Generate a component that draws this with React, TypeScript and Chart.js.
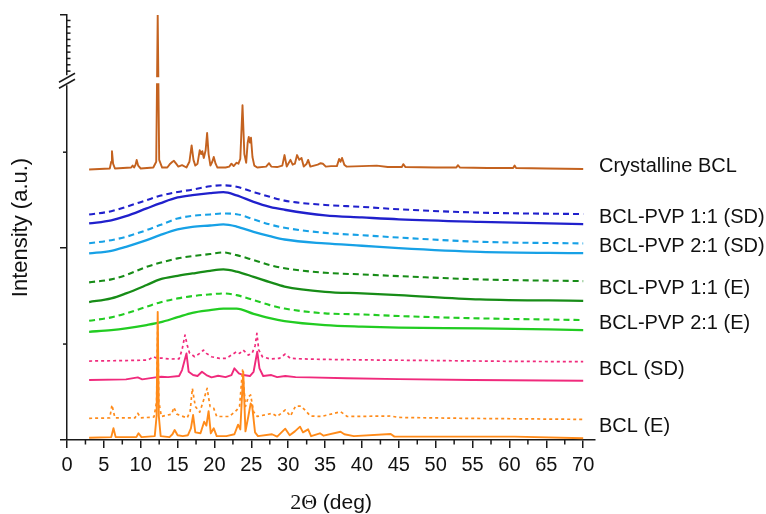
import React, { useEffect, useRef } from "react";
import { Chart, registerables } from "chart.js";

Chart.register(...registerables);

const FONT = "'Liberation Sans', Arial, Helvetica, sans-serif";
const SERIF = "'Liberation Serif', 'Times New Roman', serif";
const AXIS = "#1a1a1a";
const TEXT = "#111111";

// ---- axis description ----
const X_MIN = 0;
const X_MAX = 71.6;
const Y_MIN = 0;
const Y_MAX = 4.43;
const Y_BREAK = 3.75; // where the intensity axis is broken
const UPPER_TICK_STEP = 0.066;
const xMinorTicks = [2.5, 7.5, 12.5, 17.5, 22.5, 27.5, 32.5, 37.5, 42.5, 47.5, 52.5, 57.5, 62.5, 67.5];
const yMajorTicks = [0, 2, Y_MAX];
const yMinorTicks = [1, 3];
const xTitleParts = ["2Θ", " (deg)"];
const yTitle = "Intensity (a.u.)";

// ---- sample names (right-hand labels, top to bottom) ----
const sampleNames = [
  "Crystalline BCL",
  "BCL-PVP 1:1 (SD)",
  "BCL-PVP 2:1 (SD)",
  "BCL-PVP 1:1 (E)",
  "BCL-PVP 2:1 (E)",
  "BCL (SD)",
  "BCL (E)",
];

// ---- Crystalline BCL ----
const crystallineTheta = [3.0, 5.8, 6.0, 6.1, 6.25, 6.5, 8.7, 8.9, 9.1, 9.3, 9.45, 9.65, 10.0, 11.7, 12.1, 12.3, 12.5, 12.9, 13.6, 14.0, 14.3, 14.5, 14.8, 15.1, 15.6, 16.2, 16.6, 16.9, 17.15, 17.4, 17.7, 18.0, 18.2, 18.35, 18.55, 18.8, 19.0, 19.2, 19.45, 19.7, 19.9, 20.15, 20.4, 21.5, 22.0, 22.3, 22.6, 23.0, 23.25, 23.5, 23.8, 24.05, 24.3, 24.5, 24.65, 24.8, 24.95, 25.15, 25.4, 25.8, 27.0, 27.4, 27.7, 28.5, 29.2, 29.5, 29.8, 30.3, 30.6, 30.9, 31.2, 31.5, 31.8, 32.1, 32.5, 32.7, 33.0, 34.0, 34.4, 34.7, 35.1, 35.8, 36.6, 36.9, 37.1, 37.3, 37.6, 37.9, 40.0, 42.0, 43.5, 45.4, 45.6, 45.9, 50.0, 52.8, 53.0, 53.3, 57.0, 60.5, 60.7, 60.9, 65.0, 70.0];
const crystallineI = [2.82, 2.83, 2.9, 3.01, 2.88, 2.83, 2.84, 2.86, 2.84, 2.87, 2.92, 2.86, 2.83, 2.84, 2.9, 4.43, 2.92, 2.84, 2.84, 2.88, 2.9, 2.91, 2.88, 2.85, 2.865, 2.84, 2.9, 3.07, 2.92, 2.86, 2.88, 3.02, 2.98, 3.01, 2.94, 3.02, 3.2, 2.98, 2.86, 2.9, 2.95, 2.88, 2.84, 2.84, 2.85, 2.88, 2.855, 2.89, 2.88, 2.93, 3.49, 2.98, 2.89, 3.1, 3.16, 3.1, 3.15, 2.95, 2.86, 2.84, 2.85, 2.885, 2.85, 2.845, 2.86, 2.97, 2.85, 2.92, 2.87, 2.88, 2.97, 2.92, 2.94, 2.85, 2.88, 2.92, 2.85, 2.87, 2.885, 2.88, 2.85, 2.855, 2.855, 2.93, 2.9, 2.94, 2.87, 2.85, 2.855, 2.86, 2.845, 2.845, 2.875, 2.845, 2.84, 2.84, 2.865, 2.84, 2.835, 2.835, 2.86, 2.835, 2.83, 2.825];

// ---- amorphous BCL-PVP dispersions (shared 2θ grid) ----
const amorphousTheta = [3, 6, 8, 10.8, 12.6, 15, 17, 19.4, 21.2, 23, 25.3, 27.5, 29.5, 35, 40, 45, 56, 70];
const pvp11SdDashed = [2.35, 2.385, 2.43, 2.5, 2.545, 2.585, 2.61, 2.645, 2.655, 2.64, 2.585, 2.535, 2.495, 2.45, 2.43, 2.405, 2.37, 2.355];
const pvp11SdSolid = [2.257, 2.29, 2.333, 2.414, 2.466, 2.528, 2.552, 2.573, 2.583, 2.55, 2.482, 2.43, 2.4, 2.341, 2.32, 2.3, 2.274, 2.25];
const pvp21SdDashed = [2.05, 2.083, 2.118, 2.188, 2.24, 2.309, 2.336, 2.351, 2.361, 2.354, 2.3, 2.247, 2.212, 2.159, 2.135, 2.11, 2.066, 2.049];
const pvp21SdSolid = [1.945, 1.972, 2.014, 2.083, 2.135, 2.195, 2.222, 2.236, 2.247, 2.225, 2.17, 2.125, 2.09, 2.049, 2.025, 2.0, 1.961, 1.948];
const pvp11EDashed = [1.643, 1.674, 1.719, 1.805, 1.847, 1.893, 1.917, 1.938, 1.955, 1.927, 1.875, 1.823, 1.79, 1.743, 1.726, 1.708, 1.674, 1.656];
const pvp11ESolid = [1.438, 1.476, 1.528, 1.615, 1.674, 1.711, 1.736, 1.764, 1.778, 1.755, 1.701, 1.646, 1.6, 1.545, 1.528, 1.51, 1.466, 1.451];
const pvp21EDashed = [1.243, 1.278, 1.32, 1.389, 1.434, 1.476, 1.5, 1.518, 1.528, 1.51, 1.458, 1.406, 1.37, 1.32, 1.309, 1.292, 1.268, 1.25];
const pvp21ESolid = [1.128, 1.146, 1.164, 1.198, 1.225, 1.28, 1.326, 1.354, 1.37, 1.37, 1.315, 1.27, 1.24, 1.198, 1.182, 1.172, 1.164, 1.146];

// ---- BCL (SD) ----
const bclSdDashedTheta = [3, 8, 11, 11.7, 12.2, 12.8, 14, 15.2, 15.6, 16.0, 16.3, 16.6, 17.3, 18.0, 18.5, 18.9, 19.6, 20.7, 21.6, 22.5, 23.0, 23.4, 23.9, 24.6, 25.1, 25.5, 25.75, 26.0, 26.5, 27.5, 28.8, 29.6, 30.3, 32, 35, 40, 50, 60, 70];
const bclSdDashed = [0.823, 0.828, 0.833, 0.868, 0.85, 0.854, 0.844, 0.846, 0.94, 1.094, 0.99, 0.909, 0.868, 0.903, 0.9375, 0.903, 0.868, 0.851, 0.851, 0.896, 0.92, 0.903, 0.9375, 0.885, 0.903, 0.98, 1.111, 0.94, 0.868, 0.845, 0.851, 0.896, 0.851, 0.845, 0.84, 0.835, 0.828, 0.82, 0.816];
const bclSdSolidTheta = [3, 8, 9.6, 10.2, 12.0, 12.8, 13.7, 15.2, 15.6, 16.2, 16.5, 17.1, 17.7, 18.3, 18.9, 19.6, 20.5, 21.5, 22.3, 22.7, 23.3, 23.9, 24.8, 25.3, 25.8, 26.1, 26.6, 27.7, 28.5, 29.6, 31, 32.9, 37.9, 45, 55, 70];
const bclSdSolid = [0.625, 0.632, 0.653, 0.632, 0.653, 0.66, 0.655, 0.667, 0.729, 0.903, 0.711, 0.677, 0.667, 0.711, 0.677, 0.653, 0.67, 0.655, 0.677, 0.747, 0.695, 0.677, 0.667, 0.711, 0.92, 0.747, 0.667, 0.677, 0.655, 0.667, 0.655, 0.653, 0.643, 0.635, 0.625, 0.618];

// ---- BCL (E) ----
const bclEDashedTheta = [3, 5.8, 6.1, 6.5, 9.2, 9.6, 10.0, 11.8, 12.15, 12.3, 12.45, 12.8, 14.2, 14.5, 14.9, 15.2, 16.3, 16.7, 17.0, 17.4, 18.0, 18.6, 19.0, 19.4, 19.9, 20.3, 22.0, 23.0, 23.4, 23.8, 24.2, 24.6, 24.9, 25.3, 25.8, 27.8, 28.5, 29.6, 30.3, 31.0, 31.7, 32.3, 33, 34.5, 37.1, 38, 43.9, 45, 55, 70];
const bclEDashed = [0.226, 0.23, 0.365, 0.23, 0.23, 0.278, 0.23, 0.24, 0.4, 1.2, 0.4, 0.245, 0.27, 0.34, 0.27, 0.26, 0.23, 0.3, 0.538, 0.35, 0.29, 0.434, 0.538, 0.35, 0.33, 0.245, 0.245, 0.31, 0.35, 0.729, 0.35, 0.451, 0.469, 0.295, 0.245, 0.278, 0.245, 0.3125, 0.25, 0.354, 0.354, 0.31, 0.25, 0.245, 0.295, 0.245, 0.25, 0.235, 0.225, 0.215];
const bclESolidTheta = [3, 6.0, 6.3, 6.6, 9.4, 9.7, 10.1, 11.9, 12.15, 12.3, 12.45, 12.7, 13.9, 14.3, 14.6, 15.0, 15.7, 16.4, 16.8, 17.1, 17.4, 18.1, 18.6, 18.9, 19.2, 19.5, 19.9, 20.3, 21.6, 22.7, 23.2, 23.5, 23.9, 24.2, 24.6, 24.9, 25.1, 25.5, 25.9, 27.8, 28.5, 29.6, 30.2, 30.9, 31.6, 32.0, 32.7, 33.1, 34.3, 34.8, 37.1, 37.6, 38.9, 43.9, 44.4, 53.0, 60.7, 70];
const bclESolid = [0.024, 0.03, 0.122, 0.03, 0.03, 0.07, 0.03, 0.04, 0.25, 1.336, 0.25, 0.04, 0.03, 0.06, 0.104, 0.05, 0.04, 0.05, 0.12, 0.26, 0.08, 0.07, 0.19, 0.15, 0.3, 0.07, 0.122, 0.04, 0.04, 0.06, 0.16, 0.11, 0.711, 0.09, 0.25, 0.38, 0.36, 0.08, 0.04, 0.06, 0.035, 0.118, 0.05, 0.09, 0.139, 0.08, 0.111, 0.04, 0.07, 0.045, 0.086, 0.06, 0.04, 0.0625, 0.035, 0.035, 0.035, 0.018];

// ---- colours ----
const C_CRYST = "#c4621f";
const C_BLUE = "#2020cc";
const C_LBLUE = "#17a1e6";
const C_DGREEN = "#178c17";
const C_GREEN = "#22cc22";
const C_PINK = "#f02a7c";
const C_ORANGE = "#ff8b1a";

const pts = (xs: number[], ys: number[]) => xs.map((x, i) => ({ x, y: ys[i] }));

function line(label: string, sample: number, xs: number[], ys: number[], color: string, dash: number[], width: number, smooth: boolean) {
  return {
    label,
    sample,
    data: pts(xs, ys),
    borderColor: color,
    backgroundColor: color,
    borderWidth: width,
    borderDash: dash,
    borderJoinStyle: "round" as const,
    pointRadius: 0,
    fill: false,
    tension: smooth ? 0.4 : 0,
    cubicInterpolationMode: smooth ? ("monotone" as const) : ("default" as const),
  };
}

const DASH = [6, 4];
const DOT = [3, 3];

const datasets = [
  line("BCL (E) solid", 6, bclESolidTheta, bclESolid, C_ORANGE, [], 1.9, false),
  line("BCL (E) dashed", 6, bclEDashedTheta, bclEDashed, C_ORANGE, DOT, 1.7, false),
  line("BCL (SD) solid", 5, bclSdSolidTheta, bclSdSolid, C_PINK, [], 1.9, false),
  line("BCL (SD) dashed", 5, bclSdDashedTheta, bclSdDashed, C_PINK, DOT, 1.7, false),
  line("BCL-PVP 2:1 (E) solid", 4, amorphousTheta, pvp21ESolid, C_GREEN, [], 2.3, true),
  line("BCL-PVP 2:1 (E) dashed", 4, amorphousTheta, pvp21EDashed, C_GREEN, DASH, 2.1, true),
  line("BCL-PVP 1:1 (E) solid", 3, amorphousTheta, pvp11ESolid, C_DGREEN, [], 2.3, true),
  line("BCL-PVP 1:1 (E) dashed", 3, amorphousTheta, pvp11EDashed, C_DGREEN, DASH, 2.1, true),
  line("BCL-PVP 2:1 (SD) solid", 2, amorphousTheta, pvp21SdSolid, C_LBLUE, [], 2.3, true),
  line("BCL-PVP 2:1 (SD) dashed", 2, amorphousTheta, pvp21SdDashed, C_LBLUE, DASH, 2.1, true),
  line("BCL-PVP 1:1 (SD) solid", 1, amorphousTheta, pvp11SdSolid, C_BLUE, [], 2.3, true),
  line("BCL-PVP 1:1 (SD) dashed", 1, amorphousTheta, pvp11SdDashed, C_BLUE, DASH, 2.1, true),
  line("Crystalline BCL", 0, crystallineTheta, crystallineI, C_CRYST, [], 1.9, false),
];

const decorations = {
  id: "decorations",
  afterDraw(chart: any) {
    const { ctx, chartArea: ca, scales } = chart;
    const xs = scales.x;
    const ys = scales.y;
    const seg = (x1: number, y1: number, x2: number, y2: number) => {
      ctx.beginPath();
      ctx.moveTo(x1, y1);
      ctx.lineTo(x2, y2);
      ctx.stroke();
    };
    ctx.save();
    ctx.strokeStyle = AXIS;
    ctx.lineWidth = 1.5;
    ctx.lineCap = "butt";
    // minor ticks
    xMinorTicks.forEach((v) => {
      const px = xs.getPixelForValue(v);
      seg(px, ca.bottom, px, ca.bottom + 4.5);
    });
    yMinorTicks.forEach((v) => {
      const py = ys.getPixelForValue(v);
      seg(ca.left - 4, py, ca.left, py);
    });
    // upper (broken) segment ticks, inward
    for (let v = Y_BREAK + 0.095; v < Y_MAX - 0.04; v += UPPER_TICK_STEP) {
      const py = ys.getPixelForValue(v);
      seg(ca.left, py, ca.left + 3.5, py);
    }
    // axis break
    const yb = ys.getPixelForValue(Y_BREAK);
    ctx.fillStyle = "#ffffff";
    ctx.fillRect(ca.left + 1, yb - 3, ca.right - ca.left, 6);
    ctx.fillRect(ca.left - 10, yb - 5, 20, 10);
    seg(ca.left - 8, yb + 2, ca.left + 8, yb - 7);
    seg(ca.left - 8, yb + 8, ca.left + 8, yb - 1);

    // x-axis title: "2Θ" in a serif face, "(deg)" in sans
    ctx.fillStyle = TEXT;
    ctx.textBaseline = "middle";
    ctx.textAlign = "left";
    const serifFont = `22px ${SERIF}`;
    const sansFont = `21px ${FONT}`;
    ctx.font = serifFont;
    const w1 = ctx.measureText(xTitleParts[0]).width;
    ctx.font = sansFont;
    const w2 = ctx.measureText(xTitleParts[1]).width;
    const cx = (ca.left + ca.right) / 2;
    const ty = chart.height - 11;
    let tx = cx - (w1 + w2) / 2;
    ctx.font = serifFont;
    ctx.fillText(xTitleParts[0], tx, ty);
    tx += w1;
    ctx.font = sansFont;
    ctx.fillText(xTitleParts[1], tx, ty);

    // sample labels
    ctx.font = `20px ${FONT}`;
    sampleNames.forEach((name, si) => {
      const ends = chart.data.datasets
        .filter((d: any) => d.sample === si)
        .map((d: any) => d.data[d.data.length - 1].y);
      const mean = ends.reduce((a: number, b: number) => a + b, 0) / ends.length;
      ctx.fillText(name, ca.right + 4, ys.getPixelForValue(mean) - 2);
    });
    ctx.restore();
  },
};

export default function App() {
  const ref = useRef<HTMLCanvasElement | null>(null);
  useEffect(() => {
    if (!ref.current) return;
    const chart = new Chart(ref.current, {
      type: "line",
      data: { datasets: datasets as any },
      options: {
        animation: false,
        responsive: true,
        maintainAspectRatio: false,
        layout: { padding: { left: 0, right: 171, top: 15, bottom: 0 } },
        plugins: {
          legend: { display: false },
          tooltip: { enabled: false },
        },
        scales: {
          x: {
            type: "linear",
            min: X_MIN,
            max: X_MAX,
            ticks: {
              stepSize: 5,
              includeBounds: false,
              autoSkip: false,
              maxRotation: 0,
              color: TEXT,
              padding: 5,
              font: { family: FONT, size: 20 },
            },
            grid: { drawOnChartArea: false, drawTicks: true, tickLength: 8, color: AXIS, lineWidth: 1.5 },
            border: { display: true, color: AXIS, width: 1.5 },
            title: { display: false },
            afterFit: (s: any) => {
              s.height = 74;
            },
          },
          y: {
            type: "linear",
            min: Y_MIN,
            max: Y_MAX,
            afterBuildTicks: (s: any) => {
              s.ticks = yMajorTicks.map((v) => ({ value: v }));
            },
            ticks: { display: false },
            grid: { drawOnChartArea: false, drawTicks: true, tickLength: 7, color: AXIS, lineWidth: 1.5 },
            border: { display: true, color: AXIS, width: 1.5 },
            title: {
              display: true,
              text: yTitle,
              color: TEXT,
              font: { family: FONT, size: 22 },
              padding: { top: 8, bottom: 0 },
            },
            afterFit: (s: any) => {
              s.width = 67;
            },
          },
        },
      } as any,
      plugins: [decorations],
    });
    return () => chart.destroy();
  }, []);
  return (
    <div style={{ position: "absolute", left: 0, top: 0, width: 766, height: 514 }}>
      <canvas ref={ref} />
    </div>
  );
}
